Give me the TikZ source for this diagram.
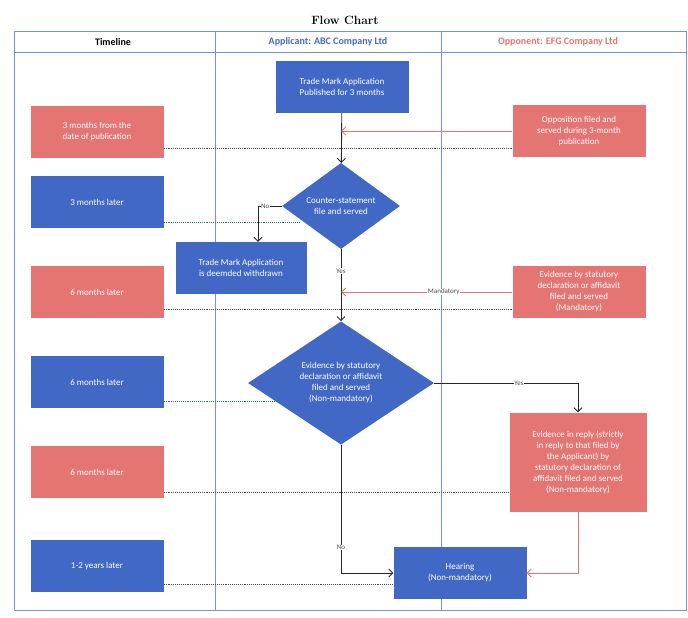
\documentclass[tikz,border=0pt]{standalone}
\usepackage{fontspec}
\setsansfont{Carlito}
\usetikzlibrary{arrows.meta,shapes.geometric,positioning}
\definecolor{boxblue}{RGB}{66,104,198}
\definecolor{boxred}{RGB}{228,117,114}
\definecolor{laneline}{RGB}{112,148,225}
\definecolor{dotgreen}{RGB}{40,120,110}
\tikzset{
  bluebox/.style={fill=boxblue,text=white,align=center,font=\sffamily\small,minimum width=133pt,minimum height=52pt,inner sep=1pt},
  redbox/.style={bluebox,fill=boxred},
  decide/.style={diamond,fill=boxblue,text=white,align=center,font=\sffamily\small,inner sep=0pt},
  flow/.style={draw=black!85,line width=0.9pt,-{Straight Barb[length=4pt,width=8pt]}},
  redflow/.style={flow,draw=boxred},
  tline/.style={densely dotted,line width=0.9pt,black!70},
  gline/.style={tline,dotgreen},
  lbl/.style={fill=white,inner sep=0.5pt,font=\sffamily\scriptsize,text=black!70}
}
\begin{document}
\begin{tikzpicture}[x=1pt,y=-1pt]
    \useasboundingbox (0,0) rectangle (688,618);

    % title and lanes
    \node[font=\bfseries\large] (title) at (345,20) {Flow Chart};
    \draw[laneline,line width=0.8pt] (14,31) rectangle (686,610);
    \draw[laneline,line width=0.8pt] (14,52) -- (686,52);
    \draw[laneline,line width=0.8pt] (215,31) -- (215,610);
    \draw[laneline,line width=0.8pt] (441,31) -- (441,610);
    \node[font=\sffamily\bfseries] (hTime) at (113,42) {Timeline};
    \node[font=\sffamily\bfseries,text=boxblue] (hApp) at (328,42) {Applicant: ABC Company Ltd};
    \node[font=\sffamily\bfseries,text=boxred] (hOpp) at (558,42) {Opponent: EFG Company Ltd};

    % timeline
    \node[redbox] (t1) at (97,132) {3 months from the\\date of publication};
    \node[bluebox] (t2) at (97,202) {3 months later};
    \node[redbox] (t3) at (97,292) {6 months later};
    \node[bluebox] (t4) at (97,382) {6 months later};
    \node[redbox] (t5) at (97,472) {6 months later};
    \node[bluebox] (t6) at (97,566) {1-2 years later};

    % applicant and opponent
    \node[bluebox] (pub) at (342,87) {Trade Mark Application\\Published for 3 months};
    \node[redbox] (opp1) at (579,131) {Opposition filed and\\served during 3-month\\publication};
    \node[decide,minimum width=118pt,minimum height=80pt] (d1) at (341,206) {Counter-statement\\file and served};
    \node[bluebox,minimum width=131pt] (wd) at (241,268) {Trade Mark Application\\is deemded withdrawn};
    \node[redbox] (opp2) at (579,292) {Evidence by statutory\\declaration or affidavit\\filed and served\\(Mandatory)};
    \node[decide,minimum width=186pt,minimum height=107pt] (d2) at (341,383) {Evidence by statutory\\declaration or affidavit\\filed and served\\(Non-mandatory)};
    \node[redbox,minimum width=137pt,minimum height=99pt] (reply) at (578,462) {Evidence in reply (strictly\\in reply to that filed by\\the Applicant) by\\statutory declaration of\\affidavit filed and served\\(Non-mandatory)};
    \node[bluebox] (hear) at (460,573) {Hearing\\(Non-mandatory)};

    % bends
    \coordinate (cNo) at (258,206);
    \coordinate (cYes) at (578,383);
    \coordinate (cHear) at (341,573);
    \coordinate (cRep) at (578,573);

    % flow
    \draw[flow] (pub) -- (d1);
    \draw[redflow] (opp1.west |- 0,131) -- (341,131);
    \draw[flow] (d1.west) -- (cNo) node[lbl,pos=0.7] {No} -- (wd.north -| cNo);
    \draw[flow] (d1) -- node[lbl,pos=0.3] {Yes} (d2);
    \draw[redflow] (opp2.west) -- node[lbl,pos=0.4] {Mandatory} (341,292);
    \draw[flow] (d2.east) -- node[lbl,pos=0.59] {Yes} (cYes) -- (reply.north);
    \draw[flow] (d2.south) -- node[lbl,pos=0.8] {No} (cHear) -- (hear.west);
    \draw[redflow] (reply.south) -- (cRep) -- (hear.east);

    % timeline guides
    \draw[tline] (t1.east |- 0,148) -- (opp1.west |- 0,148);
    \draw[gline] (t2.east |- 0,222) -- (300,222);
    \draw[tline] (t3.east |- 0,309) -- (opp2.west |- 0,309);
    \draw[gline] (t4.east |- 0,401) -- (279,401);
    \draw[tline] (t5.east |- 0,492) -- (reply.west |- 0,492);
    \draw[tline] (t6.east |- 0,584) -- (hear.west |- 0,584);
\end{tikzpicture}
\end{document}
